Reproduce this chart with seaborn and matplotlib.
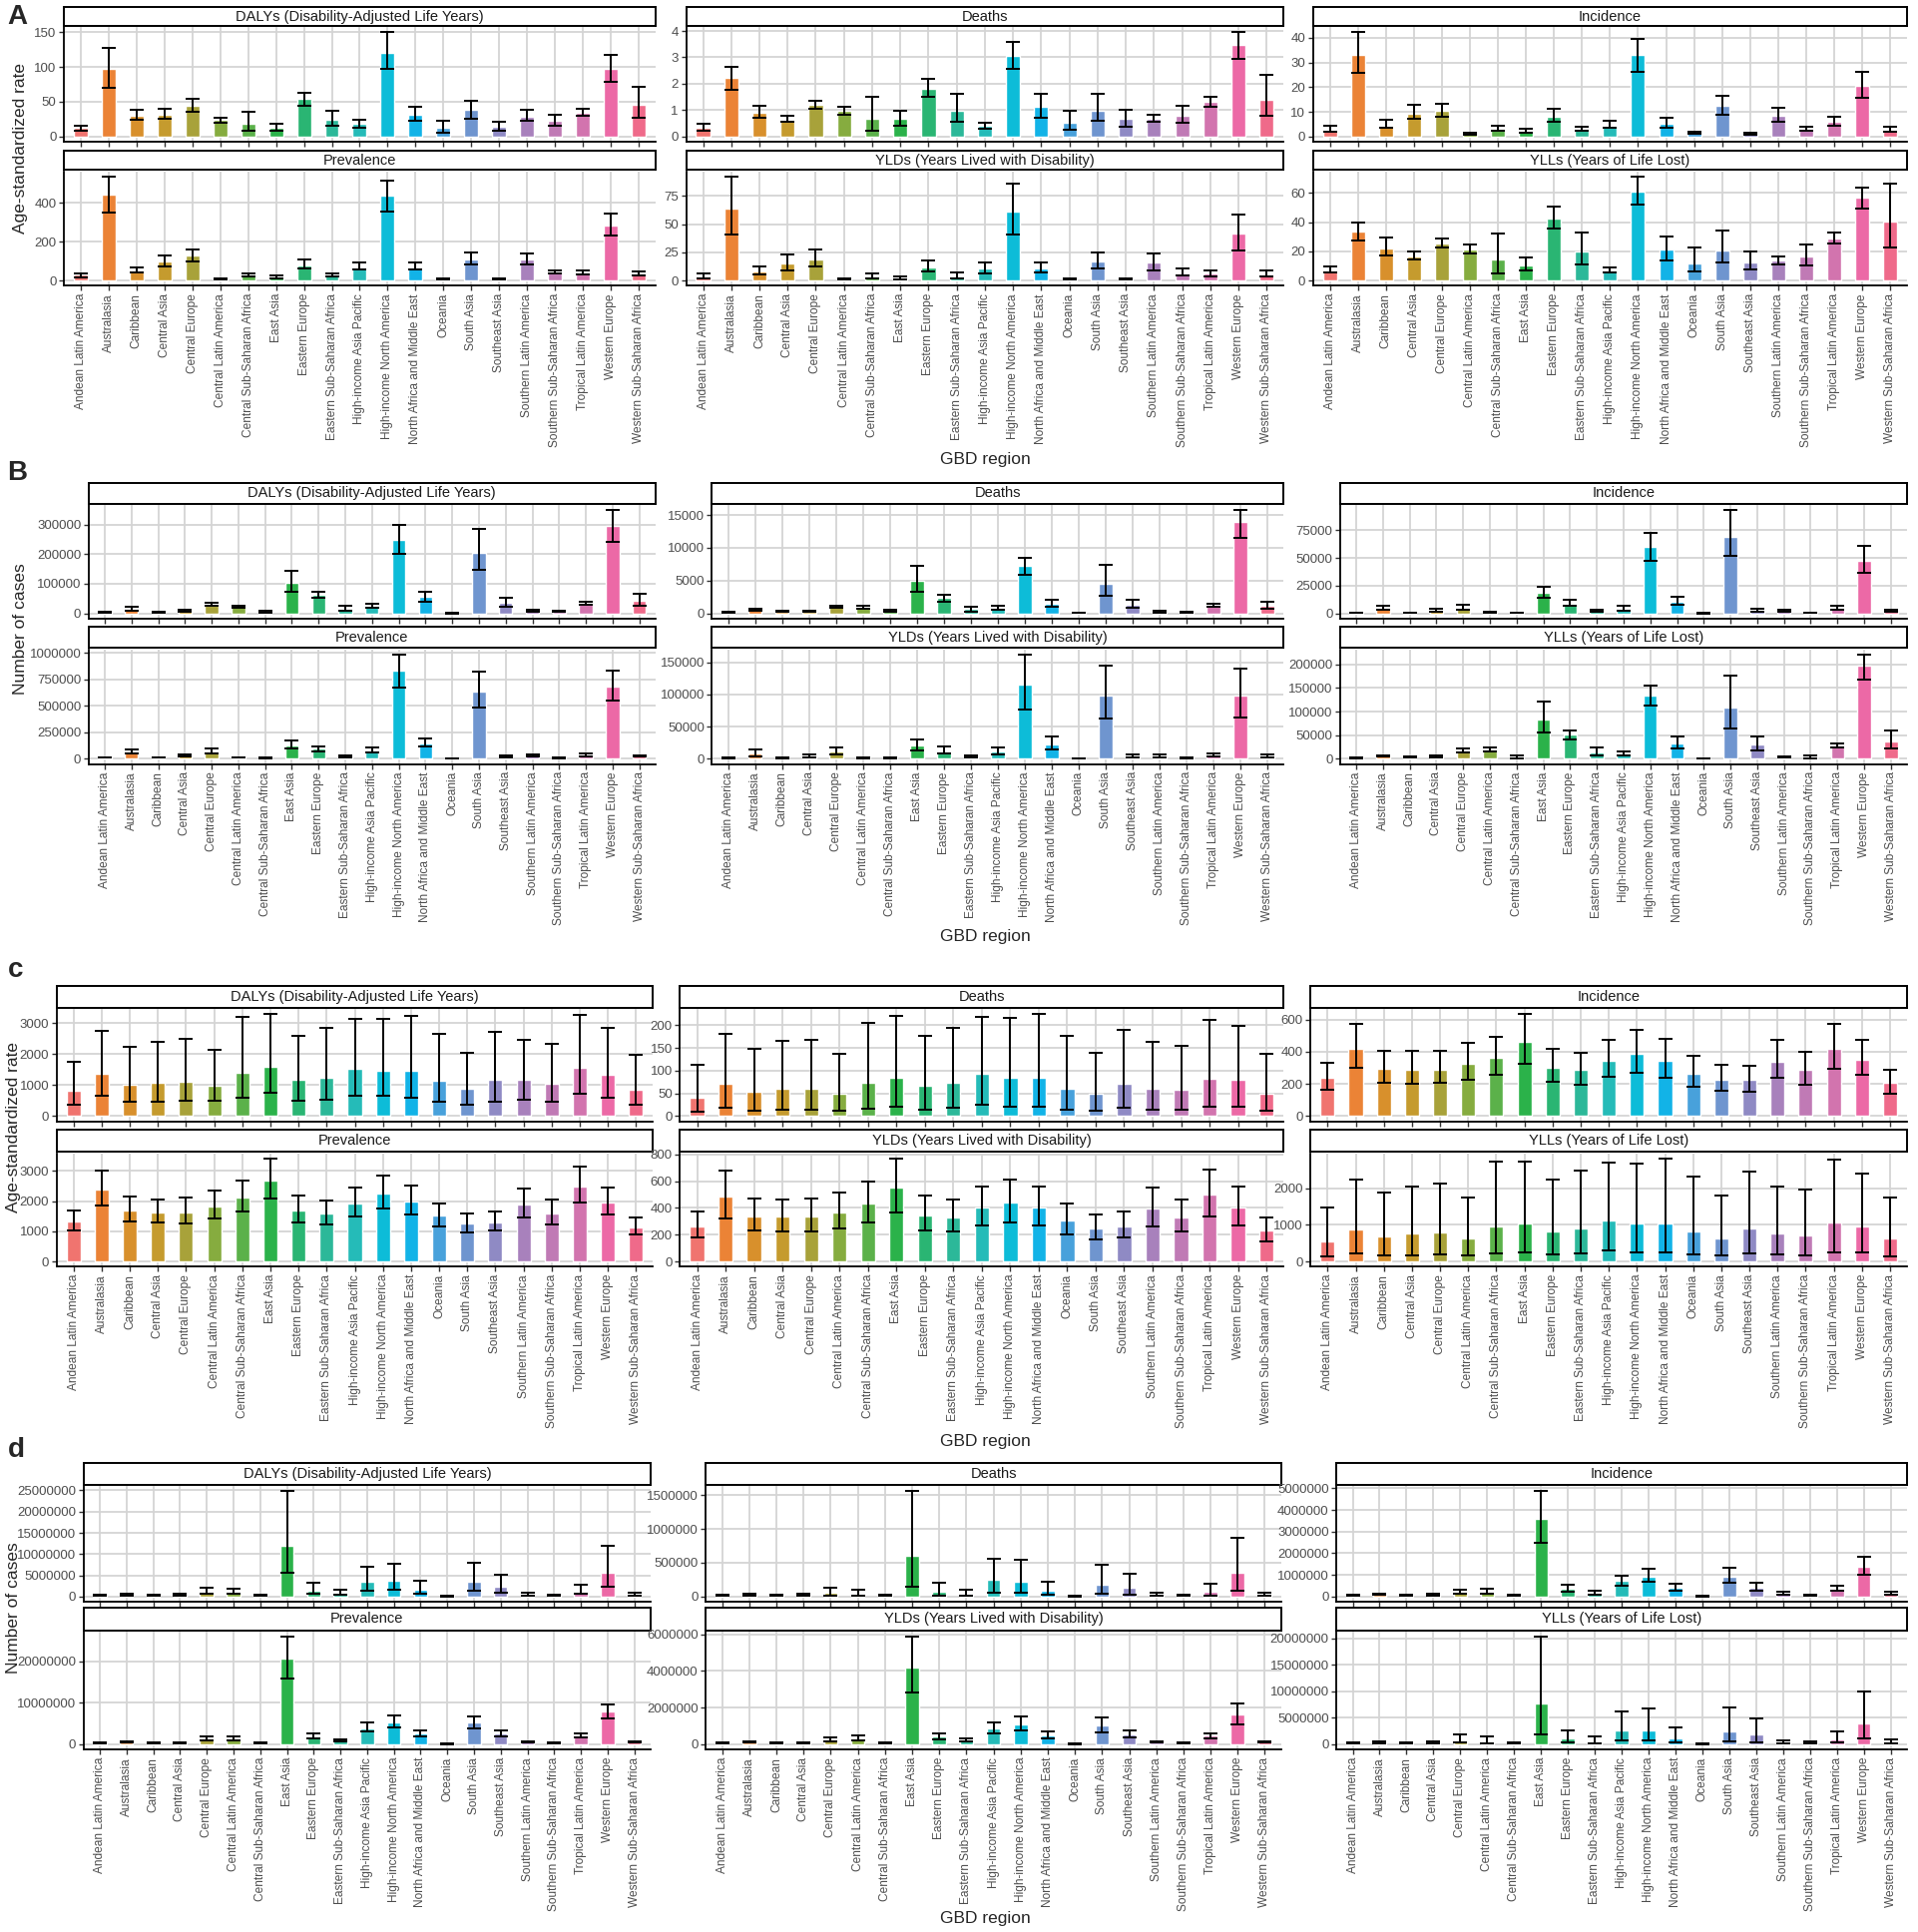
import numpy as np
import pandas as pd
import matplotlib
matplotlib.use("Agg")
import matplotlib.pyplot as plt
import seaborn as sns

sns.set_style("white")
plt.rcParams['font.family'] = ['Liberation Sans Narrow', 'Liberation Sans', 'DejaVu Sans']

regions = ["Andean Latin America", "Australasia", "Caribbean", "Central Asia", "Central Europe",
           "Central Latin America", "Central Sub-Saharan Africa", "East Asia", "Eastern Europe",
           "Eastern Sub-Saharan Africa", "High-income Asia Pacific", "High-income North America",
           "North Africa and Middle East", "Oceania", "South Asia", "Southeast Asia",
           "Southern Latin America", "Southern Sub-Saharan Africa", "Tropical Latin America",
           "Western Europe", "Western Sub-Saharan Africa"]

measures = ["DALYs (Disability-Adjusted Life Years)", "Deaths", "Incidence",
            "Prevalence", "YLDs (Years Lived with Disability)", "YLLs (Years of Life Lost)"]

# ---- A: age-standardized rate ----
A_DALYS_V = [12, 97, 30, 31, 44, 24, 19, 12, 54, 24, 19, 121, 31, 13, 38, 14, 29, 23, 34, 97, 45]
A_DALYS_L = [8, 70, 24, 25, 36, 20, 8, 9, 44, 15, 13, 98, 23, 6, 26, 8, 22, 16, 30, 79, 27]
A_DALYS_U = [15, 128, 38, 40, 54, 27, 35, 19, 63, 37, 24, 150, 43, 23, 52, 21, 39, 31, 40, 118, 72]
A_DEATHS_V = [0.32, 2.23, 0.91, 0.63, 1.20, 0.99, 0.69, 0.66, 1.81, 0.98, 0.39, 3.07, 1.13, 0.51, 0.99, 0.66, 0.66, 0.80, 1.30, 3.49, 1.39]
A_DEATHS_L = [0.23, 1.76, 0.71, 0.57, 1.04, 0.84, 0.23, 0.42, 1.50, 0.57, 0.31, 2.57, 0.72, 0.24, 0.58, 0.37, 0.57, 0.51, 1.13, 2.93, 0.77]
A_DEATHS_U = [0.48, 2.64, 1.16, 0.80, 1.36, 1.12, 1.49, 0.98, 2.17, 1.61, 0.51, 3.60, 1.61, 0.98, 1.61, 1.02, 0.81, 1.18, 1.50, 3.95, 2.33]
A_INC_V = [2.9, 33.0, 4.4, 9.3, 10.5, 1.2, 3.2, 1.9, 7.9, 2.7, 4.5, 32.9, 5.2, 1.6, 12.3, 1.2, 8.4, 2.9, 5.9, 20.7, 2.9]
A_INC_L = [2.1, 25.6, 3.4, 7.1, 7.9, 0.8, 2.5, 1.4, 6.0, 2.2, 3.6, 26.0, 3.7, 1.0, 9.0, 0.8, 5.9, 2.5, 4.4, 15.8, 2.1]
A_INC_U = [4.4, 42.2, 6.6, 12.9, 13.4, 1.6, 4.2, 3.2, 11.1, 4.0, 6.3, 39.7, 7.4, 1.9, 16.3, 1.4, 11.5, 4.0, 8.1, 26.0, 3.8]
A_PREV_V = [30, 442, 49, 100, 130, 10, 30, 20, 79, 30, 70, 437, 70, 9, 110, 10, 110, 44, 44, 282, 32]
A_PREV_L = [18, 349, 40, 75, 100, 7, 23, 14, 63, 24, 58, 356, 58, 5, 84, 6, 84, 35, 32, 233, 25]
A_PREV_U = [37, 537, 67, 128, 161, 14, 35, 26, 107, 38, 93, 518, 93, 12, 144, 14, 140, 54, 54, 344, 46]
A_YLD_V = [3.9, 63.9, 8.4, 15, 19, 1.8, 3.3, 2.4, 11.7, 3.3, 10.8, 61.1, 11.1, 1.8, 16.9, 1.5, 16, 6.6, 6, 41.3, 5.1]
A_YLD_L = [2.4, 40.7, 5.7, 9.3, 12.3, 0.9, 1.8, 1.2, 7.8, 2.1, 6.6, 40.7, 6.9, 0.9, 11.1, 0.9, 9.3, 4.5, 3.6, 26.8, 3.3]
A_YLD_U = [6.3, 92.2, 13, 23, 28, 2.4, 6.6, 3.9, 18, 7.5, 16.3, 86.1, 16.3, 2.4, 25.3, 2.1, 24.4, 10.5, 9.3, 58.7, 8.7]
A_YLL_V = [7.2, 33.5, 22.1, 16.5, 25.3, 21.6, 14.4, 10.7, 42.3, 19.8, 6.5, 61.2, 21.4, 11.9, 20.5, 12.6, 13.5, 16.5, 29.1, 56.5, 40.2]
A_YLL_L = [5.8, 27.2, 17, 14.2, 22.8, 18.6, 5.1, 7.2, 35.6, 11.4, 5.8, 52.1, 14, 6, 12.1, 7.9, 11.2, 10.5, 25.6, 49.3, 23]
A_YLL_U = [9.8, 39.8, 29.3, 19.8, 28.6, 24.4, 32.3, 16, 50.9, 32.6, 9.3, 71.2, 30.2, 22.6, 34.2, 19.8, 16.7, 24.7, 32.6, 63.3, 66.3]
A_TICKS = [[0, 50, 100, 150], [0, 1, 2, 3, 4], [0, 10, 20, 30, 40],
           [0, 200, 400], [0, 25, 50, 75], [0, 20, 40, 60]]

# ---- B: number of cases ----
B_DALYS_V = [3000, 17000, 5000, 10000, 29500, 25000, 5000, 103400, 62500, 15900, 22700, 246600, 55700, 500, 205700, 35200, 10200, 7000, 34000, 294300, 42000]
B_DALYS_L = [2000, 10000, 3500, 5700, 25000, 19300, 3000, 73900, 51100, 10200, 18200, 200000, 39800, 200, 146600, 22700, 5700, 5000, 28000, 239800, 26100]
B_DALYS_U = [4000, 23000, 7000, 13600, 36400, 27300, 8000, 144300, 73900, 27300, 31800, 300000, 73900, 900, 284100, 52300, 12500, 9000, 38000, 347700, 67000]
B_DEATHS_V = [150, 600, 250, 250, 1050, 950, 350, 4930, 2360, 720, 920, 7240, 1540, 60, 4520, 1390, 250, 230, 1300, 13970, 1130]
B_DEATHS_L = [100, 400, 180, 180, 820, 770, 220, 3290, 1850, 310, 620, 5960, 1080, 30, 2720, 870, 170, 160, 1030, 11450, 720]
B_DEATHS_U = [200, 750, 330, 330, 1180, 1130, 500, 7240, 2770, 1030, 1230, 8530, 2110, 90, 7340, 2110, 330, 320, 1450, 15720, 1800]
B_INC_V = [700, 4900, 800, 3000, 5200, 1200, 700, 18600, 8500, 2800, 4000, 60000, 10100, 200, 69200, 2100, 2700, 700, 4300, 47600, 2500]
B_INC_L = [500, 3400, 600, 1800, 3700, 900, 500, 13700, 7000, 1800, 2700, 47300, 7600, 100, 51800, 1500, 1700, 500, 3000, 36900, 1700]
B_INC_U = [900, 7000, 1000, 4300, 8200, 1500, 900, 24400, 11900, 3700, 7000, 72600, 14600, 300, 93000, 4000, 3500, 900, 7300, 61000, 3500]
B_PREV_V = [10000, 62000, 12000, 35000, 70000, 12000, 10000, 125000, 93000, 26000, 77000, 830000, 144000, 4000, 631000, 28000, 30000, 10000, 36000, 680000, 28000]
B_PREV_L = [8000, 47000, 9000, 22000, 52000, 9000, 7000, 99000, 67000, 16000, 58000, 670000, 115000, 2000, 487000, 16000, 19000, 7000, 22000, 551000, 19000]
B_PREV_U = [13000, 88000, 16000, 45000, 97000, 16000, 14000, 173000, 119000, 35000, 109000, 984000, 189000, 5000, 824000, 35000, 42000, 13000, 51000, 833000, 35000]
B_YLD_V = [1500, 7900, 1500, 4800, 11100, 1500, 1500, 20100, 11700, 4300, 10600, 115000, 21700, 500, 99100, 3700, 3700, 1500, 5300, 98000, 3700]
B_YLD_L = [1000, 3700, 1000, 2100, 6400, 1000, 1000, 12700, 7900, 2600, 6400, 76800, 13800, 300, 62500, 2600, 2600, 1000, 3200, 64700, 2600]
B_YLD_U = [2200, 14300, 2200, 6900, 17000, 2200, 2200, 30700, 19600, 5800, 18000, 162200, 33900, 800, 144700, 6400, 6400, 2200, 7900, 140400, 6900]
B_YLL_V = [2000, 6000, 4000, 5000, 18000, 20000, 5000, 83000, 50500, 13000, 10800, 132900, 33200, 1000, 108300, 29600, 3500, 4000, 28000, 196400, 36100]
B_YLL_L = [1200, 4000, 2500, 3500, 13000, 16000, 700, 55600, 41200, 7200, 7900, 112600, 22400, 500, 63500, 17300, 2500, 1500, 23000, 166800, 20900]
B_YLL_U = [2800, 7500, 5500, 6500, 21000, 23000, 7900, 122000, 59900, 23100, 15200, 156000, 47700, 1500, 176900, 46900, 4500, 6000, 31800, 220900, 59200]
B_TICKS = [[0, 100000, 200000, 300000], [0, 5000, 10000, 15000], [0, 25000, 50000, 75000],
           [0, 250000, 500000, 750000, 1000000], [0, 50000, 100000, 150000],
           [0, 50000, 100000, 150000, 200000]]

# ---- C: age-standardized rate ----
C_DALYS_V = [806, 1355, 1011, 1086, 1118, 989, 1398, 1602, 1161, 1226, 1516, 1473, 1452, 1129, 882, 1161, 1161, 1043, 1570, 1333, 849]
C_DALYS_L = [376, 656, 473, 473, 484, 484, 602, 763, 505, 516, 656, 656, 602, 462, 376, 462, 527, 473, 720, 581, 366]
C_DALYS_U = [1753, 2763, 2237, 2398, 2484, 2140, 3204, 3290, 2602, 2839, 3129, 3151, 3226, 2656, 2043, 2720, 2452, 2333, 3280, 2860, 1978]
C_DEATHS_V = [41, 72, 54, 61, 61, 50, 74, 85, 66, 74, 93, 85, 85, 61, 50, 72, 61, 58, 83, 79, 50]
C_DEATHS_L = [10, 18, 13, 14, 15, 12, 17, 21, 15, 18, 26, 21, 20, 14, 11, 18, 14, 14, 21, 20, 11]
C_DEATHS_U = [113, 180, 147, 165, 168, 136, 205, 220, 176, 194, 219, 215, 224, 176, 139, 190, 163, 154, 211, 199, 137]
C_INC_V = [237, 419, 297, 289, 291, 328, 361, 462, 303, 285, 346, 390, 344, 266, 225, 225, 340, 289, 419, 353, 208]
C_INC_L = [163, 299, 208, 202, 206, 229, 254, 326, 212, 196, 245, 270, 241, 181, 157, 153, 241, 198, 297, 258, 142]
C_INC_U = [332, 571, 408, 404, 406, 458, 495, 633, 419, 394, 474, 536, 478, 375, 318, 313, 472, 400, 573, 474, 289]
C_PREV_V = [1322, 2389, 1678, 1622, 1622, 1833, 2133, 2689, 1689, 1589, 1911, 2244, 1978, 1511, 1244, 1289, 1889, 1589, 2489, 1956, 1122]
C_PREV_L = [1033, 1867, 1333, 1278, 1267, 1422, 1644, 2078, 1300, 1233, 1500, 1744, 1567, 1167, 967, 1011, 1467, 1233, 1944, 1567, 889]
C_PREV_U = [1678, 3000, 2156, 2067, 2111, 2333, 2667, 3411, 2178, 2033, 2444, 2844, 2500, 1922, 1600, 1656, 2411, 2044, 3144, 2444, 1456]
C_YLD_V = [263, 486, 338, 333, 333, 363, 431, 554, 346, 328, 401, 439, 404, 306, 246, 263, 398, 326, 499, 404, 231]
C_YLD_L = [178, 323, 231, 223, 223, 248, 291, 368, 231, 221, 268, 293, 271, 203, 165, 178, 263, 221, 338, 271, 153]
C_YLD_U = [376, 679, 471, 461, 471, 511, 599, 769, 491, 461, 559, 614, 559, 431, 348, 376, 551, 461, 689, 559, 326]
C_YLL_V = [541, 872, 679, 761, 789, 633, 963, 1028, 826, 908, 1119, 1028, 1046, 826, 633, 908, 771, 716, 1064, 945, 624]
C_YLL_L = [128, 229, 165, 174, 183, 156, 229, 257, 202, 229, 294, 257, 248, 193, 156, 229, 183, 174, 257, 239, 147]
C_YLL_U = [1468, 2239, 1890, 2046, 2119, 1761, 2743, 2743, 2229, 2477, 2697, 2670, 2817, 2330, 1798, 2468, 2046, 1963, 2780, 2394, 1761]
C_TICKS = [[0, 1000, 2000, 3000], [0, 50, 100, 150, 200], [0, 200, 400, 600],
           [0, 1000, 2000, 3000], [0, 200, 400, 600, 800], [0, 1000, 2000]]

# ---- D: number of cases ----
D_DALYS_V = [300000, 500000, 350000, 450000, 800000, 800000, 350000, 11900000, 1450000, 730000, 3470000, 3630000, 1530000, 100000, 3470000, 2260000, 400000, 350000, 1200000, 5560000, 500000]
D_DALYS_L = [150000, 300000, 200000, 250000, 650000, 650000, 200000, 5560000, 650000, 400000, 1450000, 1600000, 730000, 50000, 1450000, 890000, 150000, 150000, 650000, 2420000, 150000]
D_DALYS_U = [450000, 700000, 500000, 650000, 2000000, 1850000, 500000, 24800000, 3200000, 1500000, 7100000, 7800000, 3700000, 150000, 7980000, 5240000, 900000, 500000, 2800000, 11850000, 950000]
D_DEATHS_V = [15000, 30000, 20000, 25000, 50000, 45000, 20000, 596000, 76000, 35000, 242000, 217000, 81000, 5000, 172000, 126000, 20000, 15000, 66000, 354000, 20000]
D_DEATHS_L = [8000, 15000, 10000, 12000, 10000, 10000, 10000, 146000, 15000, 10000, 61000, 56000, 20000, 2000, 40000, 30000, 5000, 5000, 15000, 86000, 5000]
D_DEATHS_U = [25000, 45000, 30000, 38000, 131000, 106000, 30000, 1556000, 202000, 101000, 556000, 545000, 222000, 8000, 465000, 338000, 55000, 30000, 182000, 874000, 60000]
D_INC_V = [60000, 100000, 60000, 80000, 200000, 240000, 60000, 3570000, 350000, 180000, 710000, 920000, 400000, 15000, 920000, 430000, 150000, 60000, 350000, 1380000, 150000]
D_INC_L = [40000, 70000, 40000, 60000, 110000, 140000, 40000, 2480000, 220000, 100000, 490000, 670000, 270000, 10000, 630000, 290000, 100000, 40000, 250000, 1020000, 100000]
D_INC_U = [80000, 140000, 80000, 110000, 320000, 370000, 80000, 4870000, 540000, 250000, 970000, 1300000, 600000, 25000, 1330000, 630000, 200000, 80000, 510000, 1860000, 200000]
D_PREV_V = [300000, 500000, 350000, 400000, 1300000, 1500000, 350000, 20700000, 2000000, 1000000, 3830000, 5360000, 2640000, 100000, 5280000, 2550000, 600000, 350000, 2130000, 7910000, 650000]
D_PREV_L = [200000, 350000, 250000, 300000, 850000, 940000, 250000, 16000000, 1530000, 680000, 3150000, 4170000, 1870000, 50000, 3910000, 1790000, 450000, 250000, 1620000, 6300000, 500000]
D_PREV_U = [450000, 700000, 500000, 550000, 1800000, 1960000, 500000, 26000000, 2720000, 1280000, 5280000, 6980000, 3320000, 150000, 6810000, 3320000, 800000, 500000, 2720000, 9700000, 800000]
D_YLD_V = [70000, 120000, 80000, 90000, 270000, 300000, 80000, 4190000, 430000, 230000, 880000, 1090000, 480000, 20000, 1050000, 540000, 120000, 70000, 460000, 1630000, 130000]
D_YLD_L = [50000, 80000, 55000, 60000, 170000, 210000, 55000, 2830000, 290000, 170000, 590000, 750000, 340000, 10000, 670000, 360000, 80000, 50000, 310000, 1090000, 90000]
D_YLD_U = [100000, 170000, 110000, 120000, 400000, 460000, 110000, 5870000, 610000, 300000, 1200000, 1530000, 710000, 30000, 1450000, 750000, 170000, 100000, 610000, 2240000, 180000]
D_YLL_V = [200000, 300000, 250000, 300000, 600000, 460000, 250000, 7660000, 1060000, 600000, 2570000, 2570000, 1190000, 50000, 2440000, 1850000, 300000, 250000, 920000, 3960000, 300000]
D_YLL_L = [80000, 100000, 80000, 100000, 260000, 200000, 80000, 1850000, 260000, 200000, 730000, 660000, 330000, 20000, 600000, 400000, 80000, 80000, 260000, 1060000, 100000]
D_YLL_U = [350000, 550000, 400000, 500000, 1780000, 1450000, 400000, 20300000, 2700000, 1390000, 6270000, 6730000, 3170000, 80000, 7000000, 4880000, 750000, 450000, 2500000, 9900000, 900000]
D_TICKS = [[0, 5000000, 10000000, 15000000, 20000000, 25000000],
           [0, 500000, 1000000, 1500000],
           [0, 1000000, 2000000, 3000000, 4000000, 5000000],
           [0, 10000000, 20000000],
           [0, 2000000, 4000000, 6000000],
           [0, 5000000, 10000000, 15000000, 20000000]]

# region colours as they appear in the printed figure (muted ggplot hues)
palette = ["#F0746F", "#EB8336", "#D8902C", "#C59B2E", "#A8A23A", "#86AC3F", "#5BB14A",
           "#2BB24A", "#2AB573", "#2CB899", "#25BBB8", "#0DBCD8", "#12B3E7", "#48A1DB",
           "#6F95CF", "#8F8AC4", "#A881BC", "#C07AB5", "#D274AE", "#EC69A6", "#EF6A8A"]
n = len(regions)

# layout in reference pixels (1557 x 1568 preview)
W, H = 1557.0, 1568.0
panels = [
    dict(letter="A", data=[(A_DALYS_V, A_DALYS_L, A_DALYS_U), (A_DEATHS_V, A_DEATHS_L, A_DEATHS_U),
                           (A_INC_V, A_INC_L, A_INC_U), (A_PREV_V, A_PREV_L, A_PREV_U),
                           (A_YLD_V, A_YLD_L, A_YLD_U), (A_YLL_V, A_YLL_L, A_YLL_U)],
         ticks=A_TICKS, ylabel="Age-standardized rate",
         cols=[(52, 532), (557, 1042), (1066, 1548)], rows=[(6, 22, 115), (122, 139, 232)],
         letter_y=14, ylab=(17, 120), xlab_y=373),
    dict(letter="B", data=[(B_DALYS_V, B_DALYS_L, B_DALYS_U), (B_DEATHS_V, B_DEATHS_L, B_DEATHS_U),
                           (B_INC_V, B_INC_L, B_INC_U), (B_PREV_V, B_PREV_L, B_PREV_U),
                           (B_YLD_V, B_YLD_L, B_YLD_U), (B_YLL_V, B_YLL_L, B_YLL_U)],
         ticks=B_TICKS, ylabel="Number of cases",
         cols=[(72, 532), (578, 1042), (1088, 1548)], rows=[(392, 410, 502), (509, 527, 620)],
         letter_y=384, ylab=(17, 510), xlab_y=760),
    dict(letter="c", data=[(C_DALYS_V, C_DALYS_L, C_DALYS_U), (C_DEATHS_V, C_DEATHS_L, C_DEATHS_U),
                           (C_INC_V, C_INC_L, C_INC_U), (C_PREV_V, C_PREV_L, C_PREV_U),
                           (C_YLD_V, C_YLD_L, C_YLD_U), (C_YLL_V, C_YLL_L, C_YLL_U)],
         ticks=C_TICKS, ylabel="Age-standardized rate",
         cols=[(46, 530), (552, 1042), (1064, 1548)], rows=[(800, 819, 910), (917, 936, 1028)],
         letter_y=787, ylab=(11, 915), xlab_y=1170),
    dict(letter="d", data=[(D_DALYS_V, D_DALYS_L, D_DALYS_U), (D_DEATHS_V, D_DEATHS_L, D_DEATHS_U),
                           (D_INC_V, D_INC_L, D_INC_U), (D_PREV_V, D_PREV_L, D_PREV_U),
                           (D_YLD_V, D_YLD_L, D_YLD_U), (D_YLL_V, D_YLL_L, D_YLL_U)],
         ticks=D_TICKS, ylabel="Number of cases",
         cols=[(68, 528), (573, 1040), (1085, 1548)], rows=[(1187, 1206, 1300), (1305, 1324, 1420)],
         letter_y=1177, ylab=(11, 1305), xlab_y=1557),
]

fig = plt.figure(figsize=(19.22, 19.36), dpi=100)


def rect(x0, x1, y0, y1):
    return [x0 / W, 1 - y1 / H, (x1 - x0) / W, (y1 - y0) / H]


def draw_facet(ax, vals, lows, highs, ticks, show_x):
    vals, lows, highs = np.array(vals, float), np.array(lows, float), np.array(highs, float)
    df = pd.DataFrame({"region": regions, "value": vals})
    sns.barplot(data=df, x="region", y="value", hue="region", order=regions, hue_order=regions,
                palette=palette, width=0.5, saturation=1, legend=False, errorbar=None, ax=ax)
    ax.errorbar(np.arange(n), vals, yerr=[np.maximum(vals - lows, 0), np.maximum(highs - vals, 0)],
                fmt="none", ecolor="black", elinewidth=1.4, capsize=5, capthick=1.4, zorder=3)
    lo = min(0.0, lows.min())
    hi = highs.max()
    pad = 0.05 * (hi - lo)
    ax.set_ylim(lo - pad, hi + pad)
    ax.set_xlim(-0.6, n - 0.4)
    ax.set_yticks(ticks, labels=[str(int(t)) for t in ticks])
    ax.set_xticks(range(n))
    if show_x:
        ax.set_xticklabels(regions, rotation=90, ha="center", va="top", fontsize=8.6)
    else:
        ax.tick_params(labelbottom=False)
    ax.set_xlabel("")
    ax.set_ylabel("")
    ax.grid(True, color="#D4D4D4", linewidth=1.3)
    ax.set_axisbelow(True)
    for s in ["top", "right"]:
        ax.spines[s].set_visible(False)
    for s in ["left", "bottom"]:
        ax.spines[s].set_color("black")
        ax.spines[s].set_linewidth(1.3)
    ax.tick_params(axis="both", length=3.5, width=1, color="#333333",
                   labelcolor="#4D4D4D", pad=2, left=True, bottom=True)
    ax.tick_params(axis="y", labelsize=9.5)


for p in panels:
    for k, title in enumerate(measures):
        r, c = divmod(k, 3)
        x0, x1 = p["cols"][c]
        st, sb, pb = p["rows"][r]
        ax = fig.add_axes(rect(x0, x1, sb, pb))
        vals, lows, highs = p["data"][k]
        draw_facet(ax, vals, lows, highs, p["ticks"][k], show_x=(r == 1))
        sax = fig.add_axes(rect(x0, x1, st, sb - 1))
        sax.set_xticks([])
        sax.set_yticks([])
        sax.set_facecolor("white")
        for s in sax.spines.values():
            s.set_color("black")
            s.set_linewidth(1.4)
            s.set_visible(True)
        sax.text(0.5, 0.5, title, ha="center", va="center", fontsize=10.5, color="#1A1A1A",
                 transform=sax.transAxes)
    fig.text(6 / W, 1 - p["letter_y"] / H, p["letter"], fontsize=20, fontweight="bold",
             family=["Liberation Sans", "DejaVu Sans"], ha="left", va="center")
    fig.text(p["ylab"][0] / W, 1 - p["ylab"][1] / H, p["ylabel"], rotation=90, fontsize=12.5,
             ha="center", va="center")
    fig.text(800 / W, 1 - p["xlab_y"] / H, "GBD region", fontsize=12.5, ha="center", va="center")

fig.savefig("out.png", dpi=100, facecolor="white")
